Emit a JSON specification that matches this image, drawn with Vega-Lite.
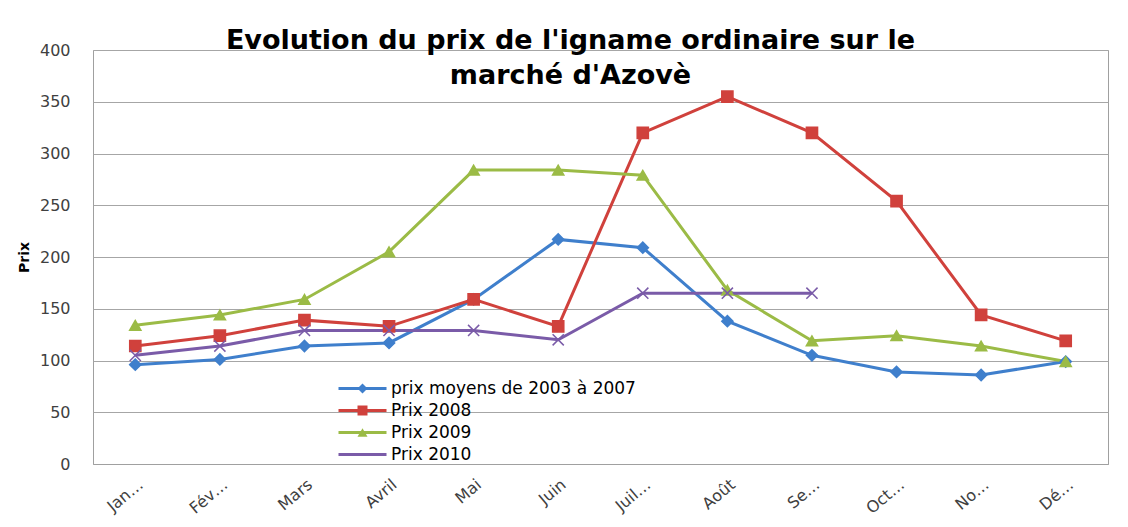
{
  "$schema": "https://vega.github.io/schema/vega-lite/v6.json",
  "width": 1015,
  "height": 414,
  "autosize": {"type": "none"},
  "padding": {"left": 93, "top": 50, "right": 20, "bottom": 63},
  "background": "white",
  "title": {
    "text": ["Evolution du prix de l'igname ordinaire sur le", "marché d'Azovè"],
    "font": "DejaVu Sans",
    "fontSize": 27,
    "fontWeight": "bold",
    "color": "#000000",
    "anchor": "middle",
    "offset": -48,
    "lineHeight": 35,
    "dx": -30
  },
  "config": {
    "view": {"stroke": "#a0a0a0", "strokeWidth": 1},
    "font": "DejaVu Sans"
  },
  "data": {
    "values": [
      {"mois": "Jan…", "serie": "prix moyens de 2003 à 2007", "prix": 96},
      {"mois": "Fév…", "serie": "prix moyens de 2003 à 2007", "prix": 101},
      {"mois": "Mars", "serie": "prix moyens de 2003 à 2007", "prix": 114},
      {"mois": "Avril", "serie": "prix moyens de 2003 à 2007", "prix": 117},
      {"mois": "Mai", "serie": "prix moyens de 2003 à 2007", "prix": 159},
      {"mois": "Juin", "serie": "prix moyens de 2003 à 2007", "prix": 217},
      {"mois": "Juil…", "serie": "prix moyens de 2003 à 2007", "prix": 209},
      {"mois": "Août", "serie": "prix moyens de 2003 à 2007", "prix": 138},
      {"mois": "Se…", "serie": "prix moyens de 2003 à 2007", "prix": 105},
      {"mois": "Oct…", "serie": "prix moyens de 2003 à 2007", "prix": 89},
      {"mois": "No…", "serie": "prix moyens de 2003 à 2007", "prix": 86},
      {"mois": "Dé…", "serie": "prix moyens de 2003 à 2007", "prix": 99},
      {"mois": "Jan…", "serie": "Prix 2008", "prix": 114},
      {"mois": "Fév…", "serie": "Prix 2008", "prix": 124},
      {"mois": "Mars", "serie": "Prix 2008", "prix": 139},
      {"mois": "Avril", "serie": "Prix 2008", "prix": 133},
      {"mois": "Mai", "serie": "Prix 2008", "prix": 159},
      {"mois": "Juin", "serie": "Prix 2008", "prix": 133},
      {"mois": "Juil…", "serie": "Prix 2008", "prix": 320},
      {"mois": "Août", "serie": "Prix 2008", "prix": 355},
      {"mois": "Se…", "serie": "Prix 2008", "prix": 320},
      {"mois": "Oct…", "serie": "Prix 2008", "prix": 254},
      {"mois": "No…", "serie": "Prix 2008", "prix": 144},
      {"mois": "Dé…", "serie": "Prix 2008", "prix": 119},
      {"mois": "Jan…", "serie": "Prix 2009", "prix": 134},
      {"mois": "Fév…", "serie": "Prix 2009", "prix": 144},
      {"mois": "Mars", "serie": "Prix 2009", "prix": 159},
      {"mois": "Avril", "serie": "Prix 2009", "prix": 205},
      {"mois": "Mai", "serie": "Prix 2009", "prix": 284},
      {"mois": "Juin", "serie": "Prix 2009", "prix": 284},
      {"mois": "Juil…", "serie": "Prix 2009", "prix": 279},
      {"mois": "Août", "serie": "Prix 2009", "prix": 168},
      {"mois": "Se…", "serie": "Prix 2009", "prix": 119},
      {"mois": "Oct…", "serie": "Prix 2009", "prix": 124},
      {"mois": "No…", "serie": "Prix 2009", "prix": 114},
      {"mois": "Dé…", "serie": "Prix 2009", "prix": 99},
      {"mois": "Jan…", "serie": "Prix 2010", "prix": 105},
      {"mois": "Fév…", "serie": "Prix 2010", "prix": 114},
      {"mois": "Mars", "serie": "Prix 2010", "prix": 129},
      {"mois": "Avril", "serie": "Prix 2010", "prix": 129},
      {"mois": "Mai", "serie": "Prix 2010", "prix": 129},
      {"mois": "Juin", "serie": "Prix 2010", "prix": 120},
      {"mois": "Juil…", "serie": "Prix 2010", "prix": 165},
      {"mois": "Août", "serie": "Prix 2010", "prix": 165},
      {"mois": "Se…", "serie": "Prix 2010", "prix": 165}
    ]
  },
  "encoding": {
    "x": {
      "field": "mois",
      "type": "nominal",
      "sort": null,
      "scale": {"type": "point", "padding": 0.5, "domain": ["Jan…", "Fév…", "Mars", "Avril", "Mai", "Juin", "Juil…", "Août", "Se…", "Oct…", "No…", "Dé…"]},
      "axis": {
        "title": null,
        "labelAngle": -40,
        "labelFontSize": 16,
        "labelColor": "#404040",
        "labelPadding": 12,
        "ticks": false,
        "domainColor": "#a0a0a0",
        "grid": false
      }
    },
    "y": {
      "field": "prix",
      "type": "quantitative",
      "scale": {"domain": [0, 400], "nice": false, "zero": true},
      "axis": {
        "title": "Prix",
        "titleFont": "DejaVu Sans",
        "titleFontSize": 14,
        "titleFontWeight": "bold",
        "titleColor": "#000000",
        "titleX": -62,
        "values": [0, 50, 100, 150, 200, 250, 300, 350, 400],
        "labelFontSize": 16,
        "labelColor": "#404040",
        "labelPadding": 23,
        "ticks": false,
        "domain": false,
        "grid": true,
        "gridColor": "#a6a6a6",
        "gridWidth": 1
      }
    }
  },
  "layer": [
    {
      "mark": {"type": "line", "strokeWidth": 3},
      "encoding": {
        "color": {
          "field": "serie",
          "type": "nominal",
          "scale": {
            "domain": ["prix moyens de 2003 à 2007", "Prix 2008", "Prix 2009", "Prix 2010"],
            "range": ["#3f7fcc", "#d0413c", "#9bbb46", "#7a5ba8"]
          },
          "legend": {
            "orient": "none",
            "legendX": 261,
            "legendY": 330,
            "title": null,
            "symbolType": "M-6,0L6,0",
            "symbolSize": 64,
            "symbolStrokeWidth": 3,
            "labelFontSize": 17,
            "labelColor": "#000000",
            "labelLimit": 400,
            "labelOffset": 20,
            "rowPadding": 4
          }
        }
      }
    },
    {
      "mark": {"type": "point", "filled": true, "size": 125, "strokeWidth": 1.5, "opacity": 1},
      "encoding": {
        "color": {
          "field": "serie",
          "type": "nominal",
          "scale": {
            "domain": ["prix moyens de 2003 à 2007", "Prix 2008", "Prix 2009", "Prix 2010"],
            "range": ["#3f7fcc", "#d0413c", "#9bbb46", "#7a5ba8"]
          },
          "legend": {
            "orient": "none",
            "legendX": 261,
            "legendY": 330,
            "title": null,
            "symbolSize": 100,
            "symbolStrokeWidth": 1.5,
            "labelFontSize": 17,
            "labelColor": "transparent",
            "labelLimit": 400,
            "labelOffset": 20,
            "rowPadding": 4
          }
        },
        "stroke": {
          "field": "serie",
          "type": "nominal",
          "scale": {
            "domain": ["prix moyens de 2003 à 2007", "Prix 2008", "Prix 2009", "Prix 2010"],
            "range": ["#3f7fcc", "#d0413c", "#9bbb46", "#7a5ba8"]
          },
          "legend": null
        },
        "shape": {
          "field": "serie",
          "type": "nominal",
          "scale": {
            "domain": ["prix moyens de 2003 à 2007", "Prix 2008", "Prix 2009", "Prix 2010"],
            "range": ["diamond", "square", "triangle-up", "M-1,-1L1,1M-1,1L1,-1"]
          },
          "legend": {
            "orient": "none",
            "legendX": 261,
            "legendY": 330,
            "title": null,
            "symbolSize": 100,
            "symbolStrokeWidth": 1.5,
            "labelFontSize": 17,
            "labelColor": "transparent",
            "labelLimit": 400,
            "labelOffset": 20,
            "rowPadding": 4
          }
        }
      }
    }
  ],
  "resolve": {"legend": {"color": "independent", "shape": "independent"}}
}
